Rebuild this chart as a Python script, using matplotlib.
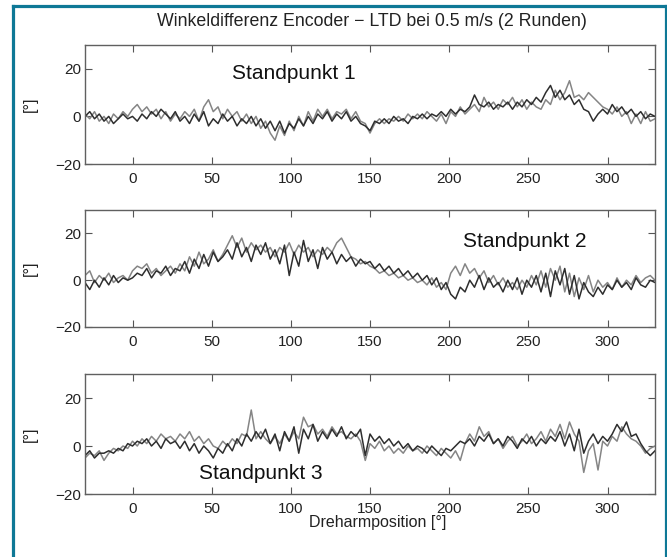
import numpy as np
import matplotlib
matplotlib.use("Agg")
import matplotlib.pyplot as plt
from matplotlib.lines import Line2D

plt.rcParams['font.family'] = ['Liberation Sans', 'DejaVu Sans']

angle = np.arange(-30, 331, 3)

sp1_dark = [0, 2, -1, 1, -2, 0, -3, -1, 1, -1,
            0, -2, 1, -1, 2, 0, 3, 1, -1, 2,
            -2, 0, -3, 1, -2, 2, -4, -1, -3, 1,
            -2, 0, -4, -1, -3, 0, -4, -1, -5, -2,
            -6, -2, -7, -3, -5, -1, -4, 0, -3, 1,
            -1, 2, -2, 1, -1, 2, -2, 0, -3, -4,
            -6, -2, -3, -1, -3, 0, -2, -1, -3, 0,
            -1, 1, -1, 1, 0, 2, 0, 3, 1, 3,
            2, 4, 9, 5, 4, 6, 3, 5, 4, 6,
            3, 6, 4, 7, 5, 8, 6, 10, 13, 8,
            11, 7, 9, 5, 7, 3, 2, -2, 1, 3,
            1, 5, 2, 4, 1, 3, 0, 2, -1, 1,
            0]
sp1_light = [1, -1, 2, -2, 0, -3, 1, -1, 2, 0,
             3, 5, 2, 4, 1, 3, -1, 2, -2, 1,
             -1, 2, 0, 3, -2, 4, 7, 2, 4, -1,
             3, 0, 2, -2, 1, -3, 0, -5, -2, -7,
             -10, -4, -8, -2, -6, 0, -4, 2, -2, 3,
             0, 3, -1, 2, 1, 3, -1, 2, -2, -3,
             -7, -3, -1, -3, -1, -2, 0, -2, 1, -1,
             1, -1, 2, 0, -2, 1, -3, 2, 0, 4,
             1, 3, 5, 2, 8, 4, 6, 3, 7, 5,
             8, 4, 7, 3, 6, 4, 3, 7, 5, 11,
             7, 10, 15, 8, 9, 7, 10, 8, 6, 4,
             3, 1, 4, 0, 2, -3, 1, -3, 2, -2,
             -1]

sp2_dark = [-1, -4, 0, -3, 1, -2, 2, -1, 1, 0,
            1, 3, 2, 5, 1, 4, 3, 6, 2, 5,
            4, 8, 3, 9, 5, 11, 6, 12, 8, 10,
            13, 9, 16, 10, 14, 8, 15, 11, 16, 9,
            13, 7, 15, 2, 12, 6, 17, 8, 13, 5,
            14, 9, 12, 7, 11, 8, 10, 6, 9, 7,
            8, 5, 7, 4, 6, 3, 5, 2, 4, 1,
            3, 0, 2, -2, 1, -4, -1, -6, -8, -3,
            -5, 0, -3, 2, -4, 1, -3, -1, -5, 0,
            -4, 1, -6, 0, -3, 2, -5, 3, -7, 4,
            -2, 5, -6, 2, -8, -1, -5, -7, -3, -6,
            -2, -4, 0, -3, -1, -4, 1, -2, -3, 0,
            -1]
sp2_light = [2, 4, -1, 2, 0, 3, -1, 1, 2, 0,
             4, 6, 5, 7, 3, 5, 2, 4, 6, 3,
             7, 4, 10, 6, 12, 7, 9, 13, 8, 11,
             15, 19, 14, 18, 12, 16, 13, 15, 12, 14,
             10, 14, 12, 16, 11, 15, 12, 14, 10, 13,
             11, 14, 12, 16, 18, 14, 10, 9, 7, 8,
             6, 5, 3, 4, 2, 3, 1, 2, 0, 1,
             -1, 0, -2, 1, -3, -1, -4, 3, 6, 2,
             7, 3, 5, 1, 4, -1, 2, -2, 1, -3,
             -1, -4, 0, -3, 2, -2, 4, -3, 5, 0,
             6, -5, 3, -7, 1, -4, 2, -5, 0, -3,
             -1, -4, 1, -3, 0, -2, 2, -1, 1, 2,
             0]

sp3_dark = [-4, -2, -5, -3, -3, -2, -3, -1, -2, 1,
            0, 2, 1, 3, 0, 2, -1, 3, 1, 2,
            -1, 2, -2, 1, -3, 0, -2, -5, -1, -3,
            1, -2, 3, 0, 5, 2, 6, 3, 7, 1,
            5, -2, 6, 2, 8, -3, 7, 3, 9, 2,
            6, 3, 7, 4, 8, 3, 6, 4, 7, -4,
            5, 2, 4, 1, 3, 0, 2, -1, 1, -2,
            0, -1, -3, 0, -2, -4, -1, -2, 0, 2,
            1, 3, 0, 4, 2, 5, 1, 3, 0, 4,
            2, -1, 3, 1, 4, 0, 3, 1, 4, 2,
            6, 0, 5, -2, 7, -3, 2, 5, 1, 4,
            2, 5, 9, 6, 10, 4, 5, 1, -2, -4,
            -2]
sp3_light = [-5, -3, -4, -2, -6, -3, -1, -2, 0, -1,
             2, 0, 3, 1, 4, 2, 5, 3, 4, 2,
             5, 3, 6, 2, 4, 1, 3, 0, -1, 2,
             0, 3, 1, 5, 4, 15, 3, 6, 3, 1,
             4, 1, 5, 2, 6, 3, 12, 8, 9, 5,
             7, 4, 8, 5, 6, 4, 3, 5, 2, -6,
             1, -1, 2, -2, 0, -3, -1, -3, 0, -2,
             -1, -3, 0, -2, -4, -1, -3, -5, -2, -6,
             1, 5, 2, 8, 4, 6, 1, 3, -1, 2,
             4, 0, 2, 5, 1, 3, 6, 2, 7, 4,
             9, 3, 10, 5, 2, -11, -2, 1, -10, 2,
             0, 4, 2, 8, 5, 3, 2, 0, -3, -1,
             0]

panels = [(sp1_dark, sp1_light, 'Standpunkt 1', 63, 18),
          (sp2_dark, sp2_light, 'Standpunkt 2', 209, 16.5),
          (sp3_dark, sp3_light, 'Standpunkt 3', 42, -11.5)]

W, H = 667, 557
fig = plt.figure(figsize=(W / 100, H / 100), dpi=100, facecolor='white')

# Rahmen (oben, links, rechts)
frame = '#0e7896'
fig.add_artist(Line2D([13 / W, 13 / W], [0, 1 - 6 / H], color=frame, lw=2.3))
fig.add_artist(Line2D([13 / W, 665.5 / W], [1 - 6 / H, 1 - 6 / H], color=frame, lw=2.3))
fig.add_artist(Line2D([665.5 / W, 665.5 / W], [0, 1 - 6 / H], color=frame, lw=2.3))

boxes = [(45, 164), (210, 327), (374, 494)]
left, right = 85, 655

for (top, bottom), (dark, light, label, tx, ty) in zip(boxes, panels):
    ax = fig.add_axes([left / W, 1 - bottom / H, (right - left) / W, (bottom - top) / H])
    ax.plot(angle[:len(light)], light, color='#858585', lw=1.1)
    ax.plot(angle[:len(dark)], dark, color='#2e2e2e', lw=1.1)
    ax.set_xlim(-30, 330)
    ax.set_ylim(-20, 30)
    ax.set_xticks([0, 50, 100, 150, 200, 250, 300])
    ax.set_yticks([-20, 0, 20])
    ax.tick_params(direction='in', top=True, right=True, length=5, width=0.8,
                   color='#555555', labelsize=11, labelcolor='#222222')
    ax.tick_params(axis='x', pad=6)
    ax.tick_params(axis='y', pad=3)
    for sp in ax.spines.values():
        sp.set_color('#606060')
        sp.set_linewidth(1.0)
    ax.text(tx, ty, label, fontsize=15, ha='left', va='center', color='#111111')
    fig.text(30 / W, 1 - (top + bottom) / 2 / H, '[°]', rotation=90,
             ha='center', va='center', fontsize=11.5, color='#222222')

fig.text(372 / W, 1 - 22 / H, 'Winkeldifferenz Encoder \u2212 LTD bei 0.5 m/s (2 Runden)',
         ha='center', va='center', fontsize=12.8, color='#222222')
fig.text(378 / W, 1 - 523 / H, 'Dreharmposition [°]', ha='center', va='center',
         fontsize=11.5, color='#222222')

fig.savefig('out.png', dpi=100, facecolor='white')
